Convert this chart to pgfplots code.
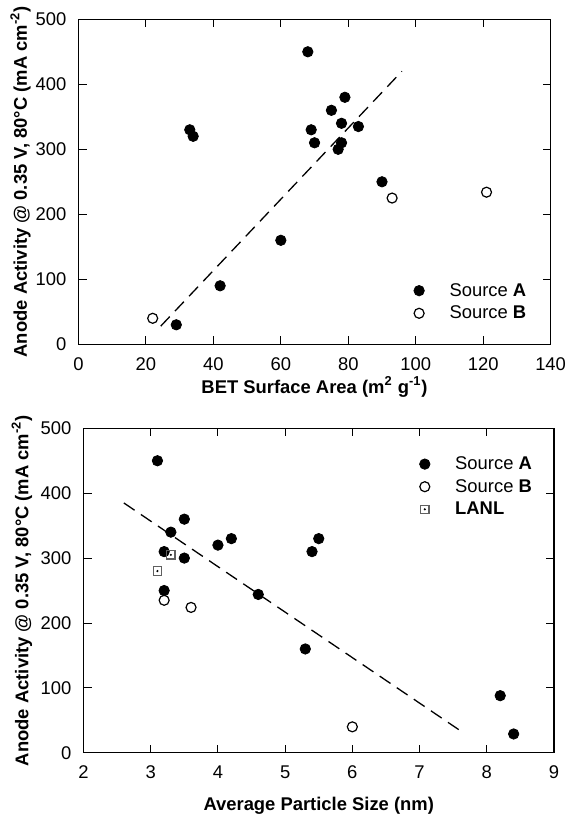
\documentclass[border=0pt]{standalone}
\usepackage{fontspec}
\setmainfont{Liberation Sans}
\usepackage{pgfplots}
\pgfplotsset{compat=1.18}

\pgfdeclareplotmark{sqdot}{%
  \pgfpathrectangle{\pgfqpoint{-\pgfplotmarksize}{-\pgfplotmarksize}}{\pgfqpoint{2\pgfplotmarksize}{2\pgfplotmarksize}}%
  \pgfusepathqstroke
  \pgfpathcircle{\pgfpointorigin}{0.6pt}%
  \pgfusepathqfill
}

\pgfplotsset{
  mylegimg/.style={legend image code/.code={\draw[##1] plot coordinates {(0pt,0pt)}; \path (-2.5pt,0pt) (13pt,0pt);}},
  myaxis/.style={
    scale only axis,
    anchor=south west,
    tick align=inside,
    major tick length=4pt,
    axis line style={line width=0.6pt},
    every tick/.style={black,line width=0.5pt},
    tick label style={font=\fontsize{9.2pt}{11pt}\selectfont},
    xticklabel style={yshift=-3pt},
    yticklabel style={xshift=-2.5pt},
    label style={font=\bfseries\fontsize{9.2pt}{11pt}\selectfont},
    /pgf/number format/assume math mode=true,
    legend style={draw=none, fill=none, inner xsep=0pt, inner ysep=0pt, row sep=3.3pt,
      nodes={inner xsep=2pt, inner ysep=0pt, text height=6.8pt, text depth=1.2pt, font=\fontsize{9.2pt}{11pt}\selectfont},
      anchor=west},
    legend cell align=left,
  },
  filledpts/.style={only marks, mark=*, mark size=2.6pt, black, mylegimg},
  openpts/.style={only marks, mark=o, mark size=2.5pt, black, mark options={line width=0.6pt}, mylegimg},
  sqpts/.style={only marks, mark=sqdot, mark size=2.1pt, gray!75!black, mark options={line width=0.6pt, draw=gray!75!black, fill=black}, mylegimg},
  fitline/.style={black, line width=0.65pt, dash pattern=on 6.5pt off 3.8pt, forget plot},
}

\begin{document}
\begin{tikzpicture}
\path[use as bounding box] (0,0) rectangle (283.5pt,407pt);

\begin{axis}[myaxis,
  at={(39.25pt,234.85pt)}, width=236.05pt, height=162.5pt,
  xmin=0, xmax=140, ymin=0, ymax=500,
  xtick={0,20,...,140}, ytick={0,100,...,500},
  xlabel={BET Surface Area (m\textsuperscript{2} g\textsuperscript{-1})},
  ylabel={Anode Activity @ 0.35 V, 80°C (mA cm\textsuperscript{-2})},
  xlabel style={at={(axis description cs:0.5,-0.1508)}, anchor=base},
  ylabel style={at={(axis description cs:-0.1093,0.5)}, anchor=base},
  legend style={at={(axis description cs:0.7092,0.1302)}},
]
\addplot[fitline] coordinates {(24.4,28) (95.9,420)};
\addplot[filledpts] coordinates {
 (29,30) (42,90) (60,160) (33,330) (34,320) (68,450) (69,330) (70,310)
 (75,360) (78,340) (79,380) (78,310) (77,300) (83,335) (90,250)};
\addlegendentry{Source \textbf{A}}
\addplot[openpts] coordinates {(22,40) (93,225) (121,234)};
\addlegendentry{Source \textbf{B}}
\end{axis}

\begin{axis}[myaxis,
  at={(41.75pt,30.6pt)}, width=235.25pt, height=162.25pt,
  xmin=2, xmax=9, ymin=0, ymax=500,
  xtick={2,3,...,9}, ytick={0,100,...,500},
  xlabel={Average Particle Size (nm)},
  ylabel={Anode Activity @ 0.35 V, 80°C (mA cm\textsuperscript{-2})},
  xlabel style={at={(axis description cs:0.5,-0.1763)}, anchor=base},
  ylabel style={at={(axis description cs:-0.1173,0.5)}, anchor=base},
  legend style={at={(axis description cs:0.7131,0.8200)}},
]
\addplot[fitline] coordinates {(2.6,385) (7.6,34.5)};
\addplot[filledpts] coordinates {
 (3.1,450) (3.2,310) (3.3,340) (3.5,360) (3.5,300) (3.2,250) (4.0,320)
 (4.2,330) (4.6,244) (5.3,160) (5.4,310) (5.5,330) (8.2,88) (8.4,29)};
\addlegendentry{Source \textbf{A}}
\addplot[openpts] coordinates {(3.2,235) (3.6,224) (6.0,40)};
\addlegendentry{Source \textbf{B}}
\addplot[sqpts] coordinates {(3.1,280) (3.3,305)};
\addlegendentry{\textbf{LANL}}
\end{axis}
\end{tikzpicture}
\end{document}
